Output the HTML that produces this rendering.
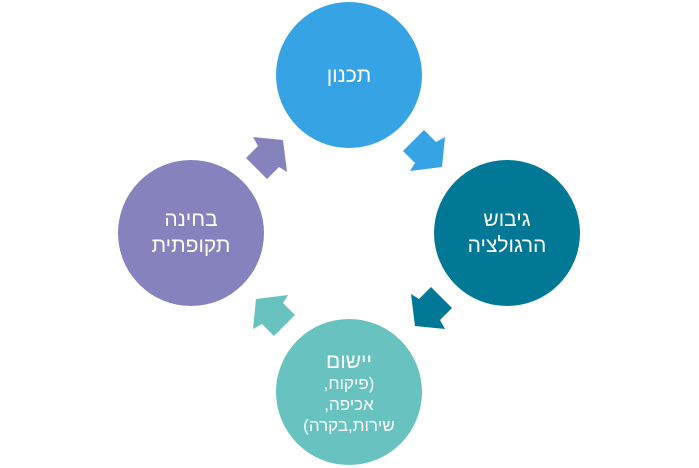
<!DOCTYPE html>
<html><head><meta charset="utf-8"><style>
body{margin:0;background:#fff;}
svg{display:block}
text{font-family:"Liberation Sans","DejaVu Sans",sans-serif;fill:#fff;text-anchor:middle}
</style></head><body>
<svg width="699" height="468" viewBox="0 0 699 468">
<circle cx="349" cy="75" r="73" fill="#36A3E4"/>
<circle cx="507" cy="233" r="73" fill="#007896"/>
<circle cx="349" cy="392" r="73" fill="#68C2BF"/>
<circle cx="191" cy="233" r="73" fill="#8682BE"/>
<g>
<polygon points="424,130 436,142 445,137 442,167 410,171 415,163 403,151" fill="#36A3E4"/>
<polygon points="424,130 436,142 445,137 442,167 410,171 415,163 403,151" fill="#007896" transform="rotate(90 349 233)"/>
<polygon points="424,130 436,142 445,137 442,167 410,171 415,163 403,151" fill="#68C2BF" transform="rotate(180 349 233)"/>
<polygon points="424,130 436,142 445,137 442,167 410,171 415,163 403,151" fill="#8682BE" transform="rotate(270 349 233)"/>
</g>
<text x="349" y="82" font-size="21" direction="rtl">תכנון</text>
<text x="507" y="226" font-size="21" direction="rtl">גיבוש</text>
<text x="507" y="252" font-size="21" direction="rtl">הרגולציה</text>
<text x="191" y="226" font-size="21" direction="rtl">בחינה</text>
<text x="191" y="252" font-size="21" direction="rtl">תקופתית</text>
<text x="349" y="368" font-size="21" direction="rtl">יישום</text>
<text x="349" y="389" font-size="17" direction="rtl">(פיקוח,</text>
<text x="349" y="410" font-size="17" direction="rtl">אכיפה,</text>
<text x="349" y="431" font-size="17" direction="rtl">שירות,בקרה)</text>
</svg>
</body></html>
